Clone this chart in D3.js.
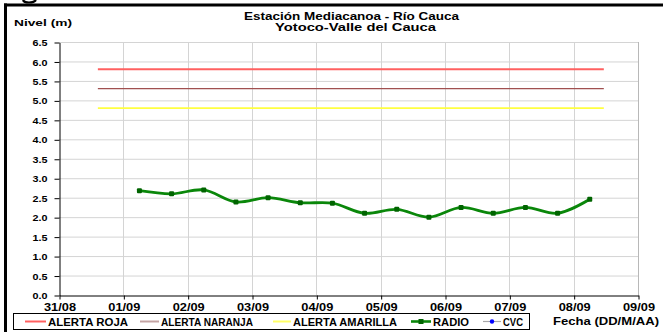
<!DOCTYPE html>
<html><head><meta charset="utf-8">
<script src="https://cdn.jsdelivr.net/npm/d3@7"></script>
<style>
html,body{margin:0;padding:0;background:#fff;}
svg{display:block;font-family:"Liberation Sans",Arial,sans-serif;font-weight:bold;}
</style></head>
<body>
<svg id="chart" width="663" height="332"></svg>
<script>
// ---- data ----
const titleLines = ["Estación Mediacanoa - Río Cauca", "Yotoco-Valle del Cauca"];
const yLabel = "Nivel (m)";
const xLabel = "Fecha (DD/M/AA)";
const xDomain = ["2011-08-31T00:00", "2011-09-09T00:00"];
const yTicks = [0,0.5,1,1.5,2,2.5,3,3.5,4,4.5,5,5.5,6,6.5];
const alertDates = ["2011-08-31T14:30", "2011-09-08T11:15"];
const alertRoja = [5.8, 5.8];
const alertNaranja = [5.3, 5.3];
const alertAmarilla = [4.8, 4.8];
const radioDates = ["2011-09-01T06:00","2011-09-01T18:00","2011-09-02T06:00","2011-09-02T18:00",
  "2011-09-03T06:00","2011-09-03T18:00","2011-09-04T06:00","2011-09-04T18:00",
  "2011-09-05T06:00","2011-09-05T18:00","2011-09-06T06:00","2011-09-06T18:00",
  "2011-09-07T06:00","2011-09-07T18:00","2011-09-08T06:00"];
const radioValues = [2.68,2.60,2.70,2.39,2.50,2.37,2.36,2.10,2.20,2.00,2.25,2.10,2.25,2.10,2.46];
const cvcDates = [];
const cvcValues = [];
const legendNames = ["ALERTA ROJA","ALERTA NARANJA","ALERTA AMARILLA","RADIO","CVC"];

// ---- drawing ----
const parse = d3.isoParse;
const svg = d3.select("#chart");
const X0 = 59, X1 = 638, Y0 = 295, Y1 = 42;
const x = d3.scaleTime().domain(xDomain.map(parse)).range([X0, X1]);
const y = d3.scaleLinear().domain([0, 6.5]).range([Y0, Y1]);

// outer frame fragments (bottom of a glyph from the page above, and the frame)
svg.append("path").attr("d", "M23,0 Q24,2.5 29,2.5 Q34,2.5 36,0").attr("fill", "none").attr("stroke", "#000").attr("stroke-width", 2.2);
svg.append("line").attr("x1", 4).attr("x2", 663).attr("y1", 5).attr("y2", 5).attr("stroke", "#000").attr("stroke-width", 3);
svg.append("line").attr("x1", 5.5).attr("x2", 5.5).attr("y1", 3.5).attr("y2", 332).attr("stroke", "#000").attr("stroke-width", 3);

// gridlines
const grid = svg.append("g");
grid.selectAll("line.h").data(yTicks.filter(d => d > 0)).join("line")
  .attr("x1", X0).attr("x2", X1).attr("y1", d => y(d) + 0.5).attr("y2", d => y(d) + 0.5)
  .attr("stroke", "#d4d4d4").attr("stroke-width", 1);
grid.selectAll("line.v").data(x.ticks(d3.timeDay.every(1)).slice(1)).join("line")
  .attr("x1", d => Math.round(x(d)) + 0.5).attr("x2", d => Math.round(x(d)) + 0.5)
  .attr("y1", Y1).attr("y2", Y0).attr("stroke", "#d4d4d4").attr("stroke-width", 1);
grid.append("line").attr("x1", X1 + 0.5).attr("x2", X1 + 0.5).attr("y1", Y1).attr("y2", Y0)
  .attr("stroke", "#b8b8b8");

// axes
const yAxis = svg.append("g").attr("transform", `translate(${X0 + 0.5},0.5)`)
  .call(d3.axisLeft(y).tickValues(yTicks).tickFormat(d3.format(".1f")).tickSize(5).tickPadding(7).tickSizeOuter(0));
yAxis.selectAll("text").attr("font-size", 9.5).attr("font-family", "Liberation Sans, Arial").attr("font-weight", "bold")
  .attr("fill", "#000").attr("textLength", 15).attr("lengthAdjust", "spacingAndGlyphs");
yAxis.selectAll("line,path").attr("stroke", "#000");

const xAxis = svg.append("g").attr("transform", `translate(0.5,${Y0 + 0.5})`)
  .call(d3.axisBottom(x).ticks(d3.timeDay.every(1)).tickFormat(d3.timeFormat("%d/%m")).tickSize(4).tickPadding(4).tickSizeOuter(0));
xAxis.selectAll("text").attr("font-size", 10).attr("font-family", "Liberation Sans, Arial").attr("font-weight", "bold")
  .attr("fill", "#000").attr("textLength", 32).attr("lengthAdjust", "spacingAndGlyphs");
xAxis.selectAll("line,path").attr("stroke", "#000");

// alert lines
const alertLine = d3.line().x((d, i) => x(parse(alertDates[i]))).y(d => y(d));
svg.append("path").attr("d", alertLine(alertAmarilla)).attr("fill", "none").attr("stroke", "#ffff40").attr("stroke-width", 1.8);
svg.append("path").attr("d", alertLine(alertNaranja)).attr("fill", "none").attr("stroke", "#a05050").attr("stroke-width", 1.2);
svg.append("path").attr("d", alertLine(alertRoja)).attr("fill", "none").attr("stroke", "#ff6060").attr("stroke-width", 1.8);

// radio series
const radioPts = radioValues.map((v, i) => [x(parse(radioDates[i])), y(v)]);
svg.append("path").attr("d", d3.line().curve(d3.curveCatmullRom.alpha(0.5))(radioPts))
  .attr("fill", "none").attr("stroke", "#0a870a").attr("stroke-width", 2.8);
svg.selectAll("rect.mk").data(radioPts).join("rect")
  .attr("x", d => d[0] - 2.5).attr("y", d => d[1] - 2.5).attr("width", 5).attr("height", 5)
  .attr("rx", 1).attr("fill", "#006400");

// cvc series (no data)
svg.selectAll("circle.cvc").data(cvcValues.map((v, i) => [x(parse(cvcDates[i])), y(v)])).join("circle")
  .attr("cx", d => d[0]).attr("cy", d => d[1]).attr("r", 2).attr("fill", "#0000ff");

// titles
const tt = svg.append("g").attr("font-size", 10).attr("fill", "#000");
tt.append("text").attr("x", 244).attr("y", 20).attr("textLength", 215).attr("lengthAdjust", "spacingAndGlyphs").text(titleLines[0]);
tt.append("text").attr("x", 275).attr("y", 31).attr("textLength", 161).attr("lengthAdjust", "spacingAndGlyphs").text(titleLines[1]);
tt.append("text").attr("x", 14).attr("y", 26).attr("font-size", 9.5).attr("textLength", 58).attr("lengthAdjust", "spacingAndGlyphs").text(yLabel);
tt.append("text").attr("x", 553).attr("y", 325).attr("textLength", 106).attr("lengthAdjust", "spacingAndGlyphs").text(xLabel);

// legend
const lg = svg.append("g");
lg.append("rect").attr("x", 13.5).attr("y", 313.5).attr("width", 516).attr("height", 16)
  .attr("fill", "#fff").attr("stroke", "#000").attr("stroke-width", 1);
const legItems = [
  {name: legendNames[0], lx: 25, tx: 48, tw: 80, color: "#ff6060", w: 2},
  {name: legendNames[1], lx: 140, tx: 161, tw: 92, color: "#c4a4a4", w: 2},
  {name: legendNames[2], lx: 273, tx: 293, tw: 104, color: "#ffff66", w: 2},
  {name: legendNames[3], lx: 411, tx: 433, tw: 36, color: "#0a870a", w: 2.6, marker: "rect"},
  {name: legendNames[4], lx: 483, tx: 503, tw: 20, color: "#a8a8a8", w: 1.2, marker: "circle"}
];
legItems.forEach(it => {
  lg.append("line").attr("x1", it.lx).attr("x2", it.tx - 2).attr("y1", 321.5).attr("y2", 321.5)
    .attr("stroke", it.color).attr("stroke-width", it.w);
  const cx = (it.lx + it.tx - 2) / 2;
  if (it.marker === "rect") lg.append("rect").attr("x", cx - 2.5).attr("y", 319).attr("width", 5).attr("height", 5).attr("fill", "#006400");
  if (it.marker === "circle") lg.append("circle").attr("cx", cx).attr("cy", 321.5).attr("r", 2.2).attr("fill", "#0000ff");
  lg.append("text").attr("x", it.tx).attr("y", 325.5).attr("font-size", 10).attr("fill", "#000")
    .attr("textLength", it.tw).attr("lengthAdjust", "spacingAndGlyphs").text(it.name);
});
</script>
</body></html>
